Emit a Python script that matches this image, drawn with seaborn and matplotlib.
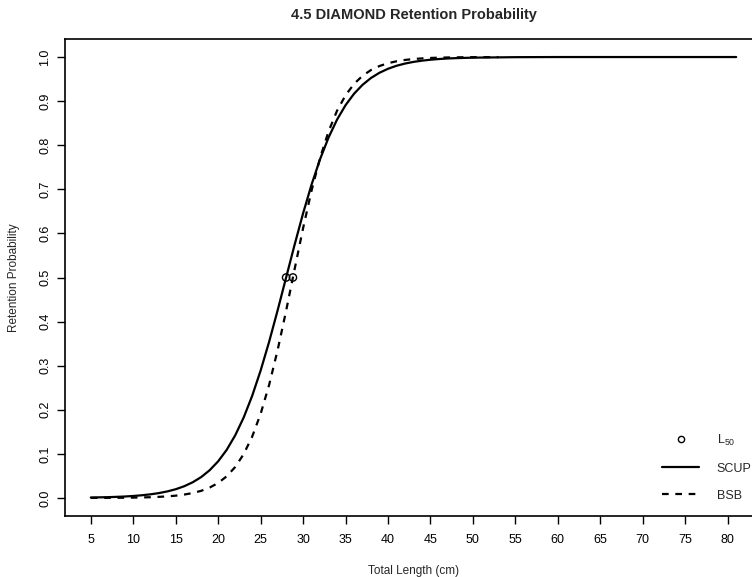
import matplotlib
matplotlib.use("Agg")
import matplotlib.pyplot as plt
from matplotlib.lines import Line2D
import seaborn as sns
import pandas as pd

# Retention probability by total length (cm)
scup_length = [5, 6, 7, 8, 9, 10, 11, 12, 13, 14, 15, 16, 17, 18, 19, 20, 21, 22, 23,
               24, 25, 26, 27, 28, 29, 30, 31, 32, 33, 34, 35, 36, 37, 38, 39, 40,
               41, 42, 43, 44, 45, 46, 47, 48, 50, 55, 60, 65, 70, 75, 81]
scup_prob = [0.001, 0.0014, 0.0018, 0.0025, 0.0033, 0.0045, 0.0061, 0.0082, 0.011,
             0.0148, 0.0198, 0.0266, 0.0356, 0.0474, 0.063, 0.0832, 0.1091, 0.1419,
             0.1824, 0.2315, 0.2891, 0.3543, 0.4256, 0.5, 0.5744, 0.6457, 0.711,
             0.7685, 0.8176, 0.8582, 0.8909, 0.9168, 0.937, 0.9526, 0.9644, 0.9734,
             0.9802, 0.9852, 0.989, 0.9918, 0.9939, 0.9955, 0.9967, 0.9975, 0.9986,
             0.9997, 1.0, 1.0, 1.0, 1.0, 1.0]

bsb_length = [5, 6, 7, 8, 9, 10, 11, 12, 13, 14, 15, 16, 17, 18, 19, 20, 21, 22, 23,
              24, 25, 26, 27, 28, 29, 30, 31, 32, 33, 34, 35, 36, 37, 38, 39, 40,
              41, 42, 43, 44, 45, 46, 47, 48, 50, 53]
bsb_prob = [0.0001, 0.0002, 0.0003, 0.0004, 0.0005, 0.0008, 0.0012, 0.0017, 0.0025,
            0.0036, 0.0052, 0.0077, 0.0112, 0.0162, 0.0236, 0.0341, 0.0491, 0.0702,
            0.0994, 0.139, 0.1909, 0.2566, 0.3354, 0.4246, 0.519, 0.6121, 0.6976,
            0.7714, 0.8315, 0.8783, 0.9134, 0.9391, 0.9575, 0.9706, 0.9797, 0.986,
            0.9904, 0.9934, 0.9955, 0.9969, 0.9979, 0.9986, 0.999, 0.9993, 0.9997,
            0.9999]

# Length at 50% retention
l50_length = [28.0, 28.8]
l50_prob = [0.5, 0.5]

x_ticks = list(range(5, 81, 5))
y_ticks = [i / 10 for i in range(0, 11)]

scup = pd.DataFrame({"length": scup_length, "prob": scup_prob})
bsb = pd.DataFrame({"length": bsb_length, "prob": bsb_prob})
l50 = pd.DataFrame({"length": l50_length, "prob": l50_prob})

sns.set_style("ticks")
plt.rcParams["font.family"] = ["Liberation Sans", "DejaVu Sans"]
plt.rcParams["mathtext.fontset"] = "custom"
plt.rcParams["mathtext.rm"] = "Liberation Sans"

fig = plt.figure(figsize=(7.52, 5.77), dpi=100)
W, H = 752, 577
left, right, top, bottom = 65, 762, 39.4, 515.6
ax = fig.add_axes([left / W, 1 - bottom / H, (right - left) / W, (bottom - top) / H])

lw = 1.6
sns.lineplot(data=scup, x="length", y="prob", ax=ax, color="black", linewidth=lw)
sns.lineplot(data=bsb, x="length", y="prob", ax=ax, color="black", linewidth=lw,
             dashes=False, linestyle=(0, (3, 3)))
sns.scatterplot(data=l50, x="length", y="prob", ax=ax, marker="o", s=28,
                facecolor="none", edgecolor="black", linewidth=1.0, zorder=5)

ax.set_xlim(1.96, 84.04)
ax.set_ylim(-0.04, 1.04)
ax.set_xticks(x_ticks)
ax.set_xticklabels([str(v) for v in x_ticks])
ax.set_yticks(y_ticks)
ax.set_yticklabels([f"{v:.1f}" for v in y_ticks], rotation=90, va="center")
ax.tick_params(axis="both", direction="out", length=6, width=1.0, colors="black",
               labelsize=9, pad=4)
ax.tick_params(axis="x", pad=7)
for s in ax.spines.values():
    s.set_color("black")
    s.set_linewidth(1.2)

ax.set_xlabel("Total Length (cm)", fontsize=8.5, labelpad=14)
ax.set_ylabel("Retention Probability", fontsize=8.5, labelpad=14)
ax.set_title("4.5 DIAMOND Retention Probability", fontsize=10.5, fontweight="bold",
             pad=15)

handles = [
    Line2D([], [], linestyle="none", marker="o", markersize=4.5, markerfacecolor="none",
           markeredgecolor="black", markeredgewidth=1.0),
    Line2D([], [], color="black", linewidth=lw),
    Line2D([], [], color="black", linewidth=lw, linestyle=(0, (3, 3))),
]
labels = [r"$\mathregular{L_{50}}$", "SCUP", "BSB"]
fig.legend(handles, labels, loc="upper left",
           bbox_to_anchor=(653 / W, 1 - 424 / H), frameon=False, fontsize=9,
           handlelength=3.0, handletextpad=1.4, labelspacing=1.2,
           borderaxespad=0.3)

fig.savefig("out.png", dpi=100)
